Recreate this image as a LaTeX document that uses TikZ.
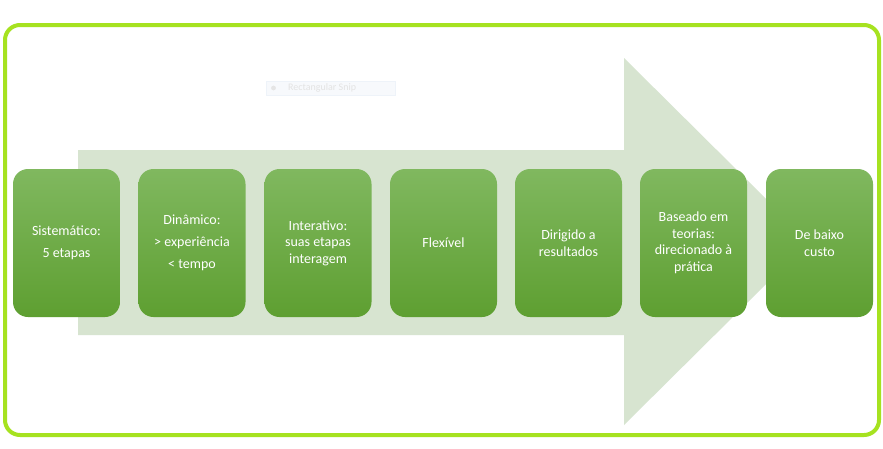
\documentclass[tikz,border=0pt]{standalone}
\usepackage{fontspec}
\setmainfont{Carlito}
\definecolor{frame}{HTML}{A6E220}
\definecolor{arrowfill}{HTML}{D7E4D0}
\definecolor{boxtop}{HTML}{80B85F}
\definecolor{boxbot}{HTML}{5E9F31}
\definecolor{snipbg}{HTML}{F7F9FC}
\definecolor{snipline}{HTML}{EEF3F9}
\tikzset{
  card/.style={rounded corners=15pt, minimum width=107pt, minimum height=148pt,
    top color=boxtop, bottom color=boxbot, draw=none, text=white, align=center,
    inner sep=0pt, font=\fontsize{14}{16.5}\selectfont},
  wide/.style={font=\fontsize{14}{22}\selectfont}
}
\begin{document}
\begin{tikzpicture}[x=1pt,y=-1pt]
\useasboundingbox (0,0) rectangle (883,448);
\fill[white] (0,0) rectangle (883,448);
\draw[frame, line width=4pt, rounded corners=15pt] (5,25) rectangle (879,435);
% snip ghost
\node[fill=snipbg, draw=snipline, minimum width=129pt, minimum height=14pt, inner sep=0pt] (snip) at (330.5,88) {};
\node[text=black!11, font=\fontsize{10}{11}\selectfont, anchor=west, inner sep=0pt] (sniptext) at (288,88) {Rectangular Snip};
\fill[black!10] (273.5,88) circle (2.4);
% big arrow
\fill[arrowfill] (78,150) -- (624,150) -- (624,58) -- (809,241.5) -- (624,425) -- (624,335) -- (78,335) -- cycle;
% cards
\node[card, wide] (c1) at (66.5,243) {Sistemático:\\5 etapas};
\node[card, wide] (c2) at (192,243) {Dinâmico:\\> experiência\\< tempo};
\node[card] (c3) at (318,243) {Interativo:\\suas etapas\\interagem};
\node[card] (c4) at (443.5,243) {Flexível};
\node[card] (c5) at (568.5,243) {Dirigido a\\resultados};
\node[card] (c6) at (693.5,243) {Baseado em\\teorias:\\direcionado à\\prática};
\node[card] (c7) at (819.5,243) {De baixo\\custo};
\end{tikzpicture}
\end{document}
